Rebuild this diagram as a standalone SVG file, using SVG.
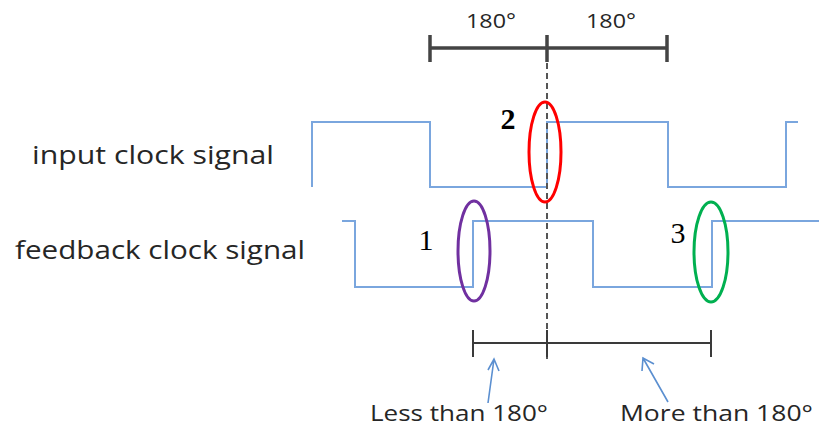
<svg xmlns="http://www.w3.org/2000/svg" width="819" height="430" viewBox="0 0 819 430">
<style>
.lbl{font-family:"Open Sans","Liberation Sans",sans-serif;fill:#262626}
.num{font-family:"Liberation Serif","DejaVu Serif",serif;fill:#000;font-size:30px}
.sig{fill:none;stroke:#7aa6de;stroke-width:2}
.bar{fill:none;stroke:#3a3a3a;stroke-width:2}
.bartop{fill:none;stroke:#444;stroke-width:3.5}
.ptr{fill:none;stroke:#5b8fd0;stroke-width:1.6}
</style>
<rect width="819" height="430" fill="#fff"/>
<g id="top-scale">
<path class="bartop" d="M430,48H667M430,35V62M547,35V62M667,35V62"/>
<text class="lbl" x="491" y="28" font-size="20" text-anchor="middle" textLength="50" lengthAdjust="spacingAndGlyphs">180°</text>
<text class="lbl" x="611" y="28" font-size="20" text-anchor="middle" textLength="50" lengthAdjust="spacingAndGlyphs">180°</text>
</g>
<g id="labels">
<text class="lbl" x="32" y="164" font-size="26" textLength="242" lengthAdjust="spacingAndGlyphs">input clock signal</text>
<text class="lbl" x="15" y="259" font-size="26" textLength="290" lengthAdjust="spacingAndGlyphs">feedback clock signal</text>
</g>
<g id="input-clock">
<polyline class="sig" points="312,187 312,122 430,122 430,187 547,187 547,122 668,122 668,187 786,187 786,122 798,122"/>
</g>
<g id="feedback-clock">
<polyline class="sig" points="342,221 355,221 355,287 473,287 473,221 593,221 593,287 712,287 712,221 819,221"/>
</g>
<g id="connectors">
<line x1="547" y1="63" x2="547" y2="360" stroke="#555" stroke-width="2" stroke-dasharray="6,4"/>
<path class="ptr" d="M488,403L494,359M488,370L494,359L499,371"/>
<path class="ptr" d="M668,402L643,358M642,371L643,358L654,364"/>
</g>
<g id="marker-2">
<ellipse cx="545" cy="152" rx="16" ry="50" fill="none" stroke="#ff0000" stroke-width="3"/>
<text class="num" x="508" y="129" text-anchor="middle" font-weight="bold">2</text>
</g>
<g id="marker-1">
<ellipse cx="474" cy="251" rx="16" ry="50" fill="none" stroke="#7030a0" stroke-width="3"/>
<text class="num" x="426" y="250" text-anchor="middle">1</text>
</g>
<g id="marker-3">
<ellipse cx="711" cy="252" rx="17" ry="50" fill="none" stroke="#00b050" stroke-width="3"/>
<text class="num" x="678" y="243" text-anchor="middle">3</text>
</g>
<g id="bottom-scale">
<path class="bar" d="M473,343H711M473,330V357M547,330V357M711,330V357"/>
<text class="lbl" x="370" y="421" font-size="22" textLength="178" lengthAdjust="spacingAndGlyphs">Less than 180°</text>
<text class="lbl" x="620" y="421" font-size="22" textLength="193" lengthAdjust="spacingAndGlyphs">More than 180°</text>
</g>
</svg>
